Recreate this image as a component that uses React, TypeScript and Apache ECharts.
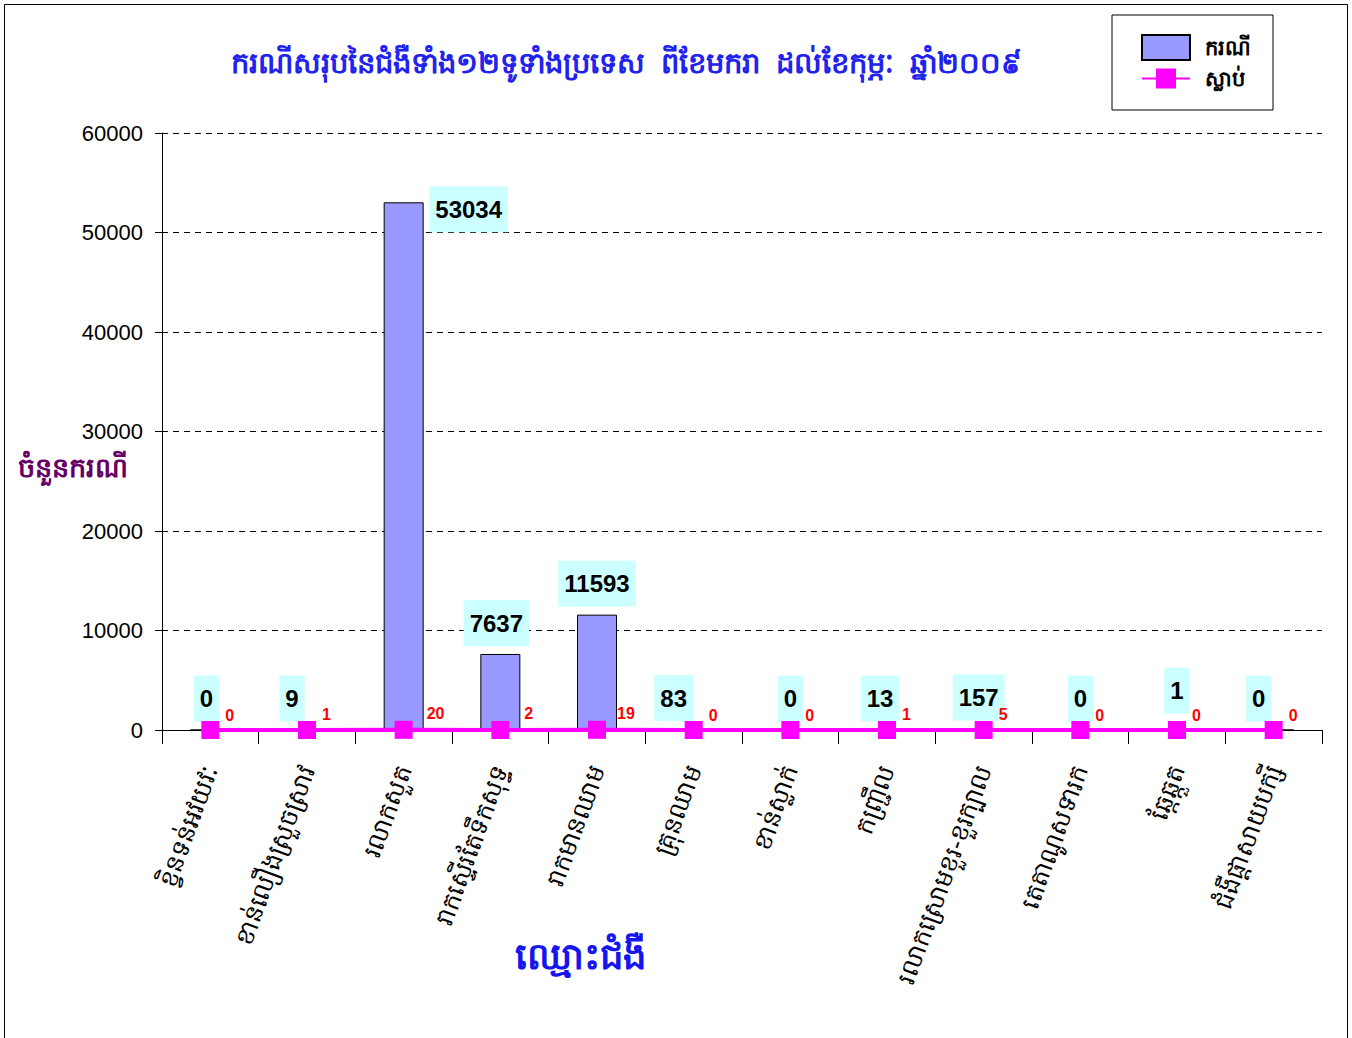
import React, { useEffect, useRef } from "react";
import * as echarts from "echarts";

const categories = [
  "ខ្វិនទន់អវយវៈ",
  "ខាន់លឿងស្រួចស្រាវ",
  "រលាកសួត",
  "រាកស្ទើរតែទឹកសុទ្ធ",
  "រាកមានឈាម",
  "គ្រុនឈាម",
  "ខាន់ស្លាក់",
  "កញ្ជ្រឹល",
  "រលាកស្រោមខួរ-ខួរក្បាល",
  "តេតាណូសទារក",
  "ឆ្កែឆ្កួត",
  "ជំងឺផ្តាសាយបក្សី",
];
const cases = [0, 9, 53034, 7637, 11593, 83, 0, 13, 157, 0, 1, 0];
const deaths = [0, 1, 20, 2, 19, 0, 0, 1, 5, 0, 0, 0];
const yTicks = [0, 10000, 20000, 30000, 40000, 50000, 60000];

const titleText = "ករណីសរុបនៃជំងឺទាំង១២ទូទាំងប្រទេស  ពីខែមករា  ដល់ខែកុម្ភៈ  ឆ្នាំ២០០៩";
const seriesNames = ["ករណី", "ស្លាប់"];
const yName = "ចំនួនករណី";
const xName = "ឈ្មោះជំងឺ";

const FONT = "'Liberation Sans', Arial, 'Noto Sans', sans-serif";

// label nudges (pixel offsets) for a few value boxes, as placed in the original
const labelNudge: Record<number, [number, number]> = {
  0: [-4, 0],
  1: [-15, 0],
  2: [65, 38],
  3: [-4, 0],
  5: [-20, 0],
  7: [-7, 0],
  8: [-5, 0],
  10: [0, -8],
  11: [-15, 0],
};
// death labels sitting beside a tall bar are pushed clear of it
const deathNudge: Record<number, [number, number]> = {
  2: [8, -16],
  3: [9, -16],
  4: [5, -16],
};

export default function App() {
  const ref = useRef<HTMLDivElement>(null);
  useEffect(() => {
    document.body.style.margin = "0";
    const chart = echarts.init(ref.current!, null, { renderer: "svg" });
    chart.setOption({
      animation: false,
      backgroundColor: "#ffffff",
      textStyle: { fontFamily: FONT },
      title: {
        text: titleText,
        left: 226,
        top: 43,
        textStyle: { color: "#2222EE", fontSize: 29, fontWeight: "bold", fontFamily: FONT },
      },
      legend: {
        orient: "vertical",
        left: 1112,
        top: 15,
        padding: [19, 22, 21, 29],
        itemGap: 7,
        itemWidth: 48,
        itemHeight: 25,
        borderColor: "#000",
        borderWidth: 1,
        backgroundColor: "#fff",
        textStyle: {
          color: "#000",
          fontSize: 21,
          fontWeight: "bold",
          fontFamily: FONT,
          padding: [0, 0, 0, 10],
        },
        data: [
          { name: seriesNames[0], icon: "rect" },
          { name: seriesNames[1] },
        ],
      },
      grid: { left: 162, right: 30, top: 133, bottom: 308, containLabel: false },
      xAxis: {
        type: "category",
        data: categories,
        boundaryGap: true,
        axisLine: { lineStyle: { color: "#000", width: 1 } },
        axisTick: { show: true, alignWithLabel: false, length: 14, lineStyle: { color: "#000" } },
        axisLabel: {
          rotate: 70,
          interval: 0,
          margin: 36,
          color: "#000",
          fontSize: 25,
          fontFamily: FONT,
        },
      },
      yAxis: {
        type: "value",
        min: 0,
        max: yTicks[yTicks.length - 1],
        interval: yTicks[1] - yTicks[0],
        axisLine: { show: true, lineStyle: { color: "#000" } },
        axisTick: { show: true, length: 7, lineStyle: { color: "#000" } },
        axisLabel: {
          color: "#000",
          fontSize: 22,
          margin: 19,
          fontFamily: FONT,
          formatter: (v: number) => String(v),
        },
        splitLine: { show: true, lineStyle: { color: "#000", type: [6, 5], width: 1 } },
      },
      graphic: [
        {
          type: "rect",
          shape: { x: 4.5, y: 4.5, width: 1343, height: 1040 },
          style: { fill: "none", stroke: "#000", lineWidth: 1 },
          z: -10,
        },
        {
          type: "text",
          left: 18,
          top: 454,
          style: { text: yName, fill: "#660066", fontSize: 27, fontWeight: "bold", fontFamily: FONT },
        },
        {
          type: "text",
          left: 515,
          top: 938,
          style: { text: xName, fill: "#1515EE", fontSize: 37, fontWeight: "bold", fontFamily: FONT },
        },
      ],
      series: [
        {
          name: seriesNames[0],
          type: "bar",
          barWidth: 40,
          itemStyle: { color: "#9999FF", borderColor: "#000", borderWidth: 1 },
          data: cases.map((v, i) =>
            labelNudge[i] ? { value: v, label: { offset: labelNudge[i] } } : v
          ),
          label: {
            show: true,
            position: "top",
            distance: 8,
            color: "#000",
            fontSize: 24,
            fontWeight: "bold",
            fontFamily: FONT,
            backgroundColor: "#CCFFFF",
            padding: [11, 6, 11, 6],
          },
          z: 2,
        },
        {
          name: seriesNames[1],
          type: "line",
          data: deaths.map((v, i) =>
            deathNudge[i] ? { value: v, label: { offset: deathNudge[i] } } : v
          ),
          symbol: "rect",
          symbolSize: 18,
          lineStyle: { color: "#FF00FF", width: 4 },
          itemStyle: { color: "#FF00FF" },
          label: {
            show: true,
            position: "right",
            distance: 6,
            offset: [0, -15],
            color: "#FF0000",
            fontSize: 16,
            fontWeight: "bold",
            fontFamily: FONT,
          },
          z: 3,
        },
      ],
    });
    return () => chart.dispose();
  }, []);
  return <div ref={ref} style={{ width: 1352, height: 1038 }} />;
}
